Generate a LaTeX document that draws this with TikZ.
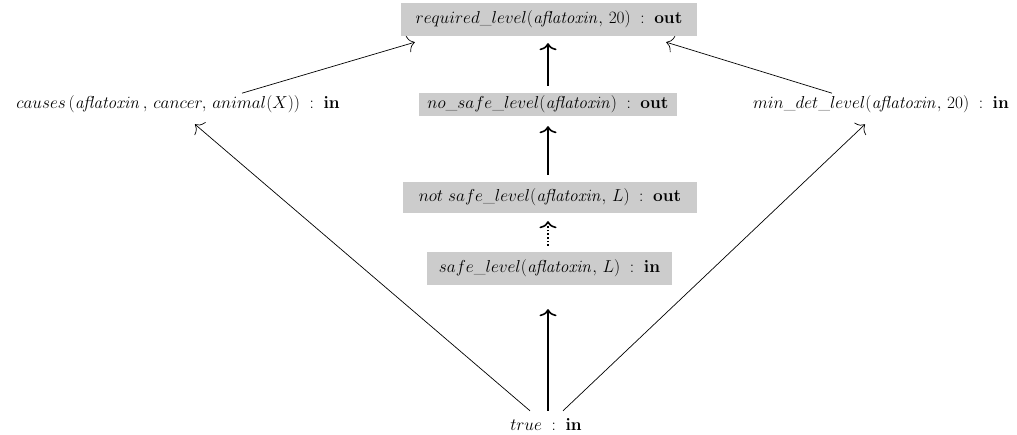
\documentclass[tikz,border=0pt]{standalone}
\usetikzlibrary{arrows.meta}
\begin{document}
\begin{tikzpicture}[x=1pt,y=-1pt,
  every node/.style={font=\fontsize{17}{20}\selectfont},
  gbox/.style={fill=black!20, inner sep=0pt},
  plain/.style={inner sep=2pt},
  arr/.style={-{To[length=7pt,width=17pt]}, line width=0.7pt},
  varr/.style={arr, line width=1.6pt},
]
\useasboundingbox (0,0) rectangle (1017,434);
\node[gbox, minimum width=296pt, minimum height=33pt] (req) at (549,19.5) {$required\_level(\mathit{aflatoxin},\,20)\;:\;\mathbf{out}$};
\node[plain] (cau) at (178,104) {$causes\,(\mathit{aflatoxin}\,,\,cancer,\,animal(X))\;:\;\mathbf{in}$};
\node[gbox, minimum width=258pt, minimum height=23pt] (nos) at (548,104.5) {$no\_safe\_level(\mathit{aflatoxin})\;:\;\mathbf{out}$};
\node[plain] (min) at (881,104) {$min\_det\_level(\mathit{aflatoxin},\,20)\;:\;\mathbf{in}$};
\node[gbox, minimum width=294pt, minimum height=31pt] (nots) at (550,197.5) {$not\ safe\_level(\mathit{aflatoxin},\,L)\;:\;\mathbf{out}$};
\node[gbox, minimum width=245pt, minimum height=33pt] (safe) at (549.5,268.5) {$safe\_level(\mathit{aflatoxin},\,L)\;:\;\mathbf{in}$};
\node[plain] (true) at (546,424) {$true\;:\;\mathbf{in}$};
\draw[arr] ([xshift=64pt]cau.north) -- ([xshift=14pt,yshift=-6pt]req.south west);
\draw[arr] ([xshift=-49pt]min.north) -- ([xshift=-31pt,yshift=-6pt]req.south east);
\draw[varr] ([yshift=7pt]nos.north) -- ([xshift=-1pt,yshift=-7pt]req.south);
\draw[varr] ([xshift=-2pt,yshift=7pt]nots.north) -- ([yshift=-10pt]nos.south);
\draw[varr, dotted] ([xshift=-1.5pt,yshift=6pt]safe.north) -- ([xshift=-2pt,yshift=-8pt]nots.south);
\draw[varr] ([xshift=2pt,yshift=5pt]true.north) -- ([xshift=-1.5pt,yshift=-24pt]safe.south);
\draw[arr] ([xshift=-16pt,yshift=5pt]true.north) -- ([xshift=17pt,yshift=-9.5pt]cau.south);
\draw[arr] ([xshift=17pt,yshift=5pt]true.north) -- ([xshift=-16pt,yshift=-9.5pt]min.south);
\end{tikzpicture}
\end{document}
